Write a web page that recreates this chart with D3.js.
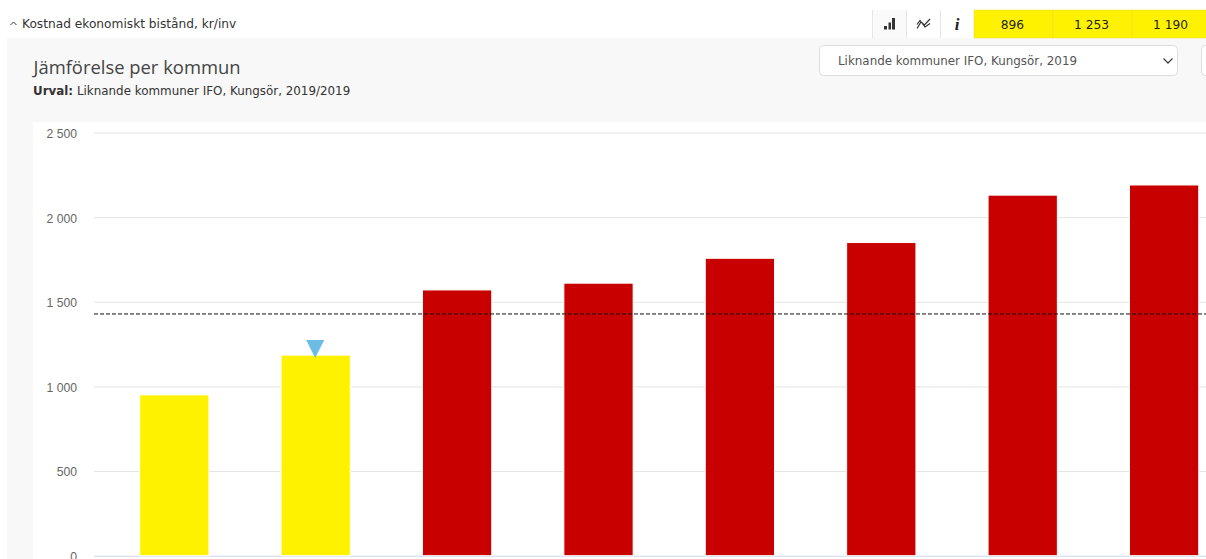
<!DOCTYPE html>
<html>
<head>
<meta charset="utf-8">
<script src="https://cdn.jsdelivr.net/npm/d3@7"></script>
<style>
  html, body { margin: 0; padding: 0; background: #fff; overflow: hidden; }
  svg { display: block; font-family: 'DejaVu Sans', sans-serif; }
  .axisLabel .domain { display: none; }
  .axisLabel text { fill: #666; font-size: 12.2px; }
</style>
</head>
<body>
<svg width="1206" height="559"></svg>
<script>
const categories = ['A', 'Kungsör', 'C', 'D', 'E', 'F', 'G', 'H']
const values = [950, 1185, 1570, 1610, 1757, 1850, 2130, 2190]
const barColors = ['#fff200', '#fff200', '#c80000', '#c80000', '#c80000', '#c80000', '#c80000', '#c80000']
const yTicks = [0, 500, 1000, 1500, 2000, 2500]
const average = [1428]
const marked = ['Kungsör']
const kpiValues = ['896', '1 253', '1 190']

const svg = d3.select('svg')
const fmt = (d) => d3.format(',')(d).replace(/,/g, ' ')

drawPage()
const scales = setScales()
drawGrid(scales)
drawBars(scales)
drawAverage(scales)
drawMarker(scales)
drawHeader()

function setScales () {
  return {
    x: d3.scaleBand().domain(categories).range([103.6, 1234.8]).paddingInner(0.51).paddingOuter(0.255),
    y: d3.scaleLinear().domain([0, 2500]).range([555.7, 132.5])
  }
}

function drawPage () {
  svg.append('rect').attr('x', 7).attr('y', 38).attr('width', 1199).attr('height', 521).attr('fill', '#f8f8f8')
  svg.append('rect').attr('x', 33).attr('y', 122).attr('width', 1173).attr('height', 437).attr('fill', '#fff')
}

function drawGrid ({ y }) {
  const axis = svg.append('g')
    .attr('class', 'axisLabel')
    .attr('transform', 'translate(94,0)')
    .call(d3.axisLeft(y).tickValues(yTicks).tickFormat(fmt).tickSize(0).tickPadding(17))
  axis.selectAll('text').attr('dy', '0.4em')
  axis.selectAll('.tick').append('line')
    .attr('x2', 1112)
    .attr('stroke', (d) => d === 0 ? '#ccd6eb' : '#e3e3e3')
}

function drawBars ({ x, y }) {
  svg.append('g').selectAll('rect')
    .data(values)
    .join('rect')
    .attr('x', (d, i) => x(categories[i]))
    .attr('y', (d) => y(d))
    .attr('width', x.bandwidth())
    .attr('height', (d) => y(0) - y(d))
    .attr('fill', (d, i) => barColors[i])
    .attr('stroke', '#fff')
    .attr('stroke-width', 1)
}

function drawAverage ({ y }) {
  svg.append('line')
    .attr('x1', 94).attr('x2', 1206)
    .attr('y1', y(average[0])).attr('y2', y(average[0]))
    .attr('stroke', '#111')
    .attr('stroke-dasharray', '4 2')
}

function drawMarker ({ x, y }) {
  marked.forEach((name) => {
    const cx = x(name) + x.bandwidth() / 2 - 0.5
    const top = y(values[categories.indexOf(name)])
    svg.append('path')
      .attr('d', d3.line()([[cx - 9, top - 15], [cx + 9, top - 15], [cx, top + 3]]))
      .attr('fill', '#6bbde6')
  })
}

function drawHeader () {
  svg.append('path').attr('d', 'M10.5 25 L13.5 22 L16.5 25').attr('fill', 'none').attr('stroke', '#333')
  addText(22, 28, 'Kostnad ekonomiskt bistånd, kr/inv', 12.2, '#333')
  addText(33.5, 74, 'Jämförelse per kommun', 18.4, '#444').attr('font-family', 'Open Sans')
  const sub = addText(33, 95, '', 11.9, '#333')
  sub.append('tspan').attr('font-weight', 700).text('Urval:')
  sub.append('tspan').text(' Liknande kommuner IFO, Kungsör, 2019/2019')

  // dropdowns
  svg.append('rect').attr('x', 819.5).attr('y', 45.5).attr('width', 358).attr('height', 30).attr('rx', 4)
    .attr('fill', '#fff').attr('stroke', '#ddd')
  svg.append('rect').attr('x', 1201.5).attr('y', 45.5).attr('width', 20).attr('height', 30).attr('rx', 4)
    .attr('fill', '#fff').attr('stroke', '#ddd')
  addText(838, 65, 'Liknande kommuner IFO, Kungsör, 2019', 11.9, '#555')
  svg.append('path').attr('d', 'M1163.5 58.5 L1168 63 L1172.5 58.5').attr('fill', 'none').attr('stroke', '#444').attr('stroke-width', 1.3)

  // tool buttons
  svg.append('rect').attr('x', 872).attr('y', 10).attr('width', 34).attr('height', 28).attr('fill', '#fafafa')
  ;[872, 906, 940].forEach((px) => {
    svg.append('line').attr('x1', px + 0.5).attr('x2', px + 0.5).attr('y1', 10).attr('y2', 38).attr('stroke', '#e6e6e6')
  })
  svg.append('path').attr('d', 'M884 26h3v3.5h-3z M888.5 22.5h2.5v7h-2.5z M892 18h3v11.5h-3z').attr('fill', '#333')
  svg.append('path').attr('d', 'M917 28.5 L921 22 L924.5 25 L930 19 M917 24.5 L920 20.5 L925 27 L930 23.5')
    .attr('fill', 'none').attr('stroke', '#333').attr('stroke-width', 1.2)
  addText(957, 30, 'i', 17, '#222').attr('font-weight', 700).attr('font-style', 'italic').attr('font-family', 'Liberation Serif').attr('text-anchor', 'middle')

  // yellow key figures
  const kpiX = d3.scaleBand().domain(d3.range(kpiValues.length)).range([974, 1211])
  svg.append('g').selectAll('rect')
    .data(kpiValues)
    .join('rect')
    .attr('x', (d, i) => kpiX(i))
    .attr('y', 10)
    .attr('width', kpiX.bandwidth())
    .attr('height', 28)
    .attr('fill', '#fff200')
    .attr('stroke', '#e8dc30')
    .attr('stroke-width', 0.5)
  kpiValues.forEach((d, i) => {
    addText(kpiX(i) + kpiX.bandwidth() / 2 - 1, 29, d, 12.2, '#222').attr('text-anchor', 'middle')
  })
}

function addText (x, y, str, size, color) {
  return svg.append('text')
    .attr('x', x).attr('y', y)
    .attr('font-size', size)
    .attr('fill', color)
    .text(str)
}
</script>
</body>
</html>
